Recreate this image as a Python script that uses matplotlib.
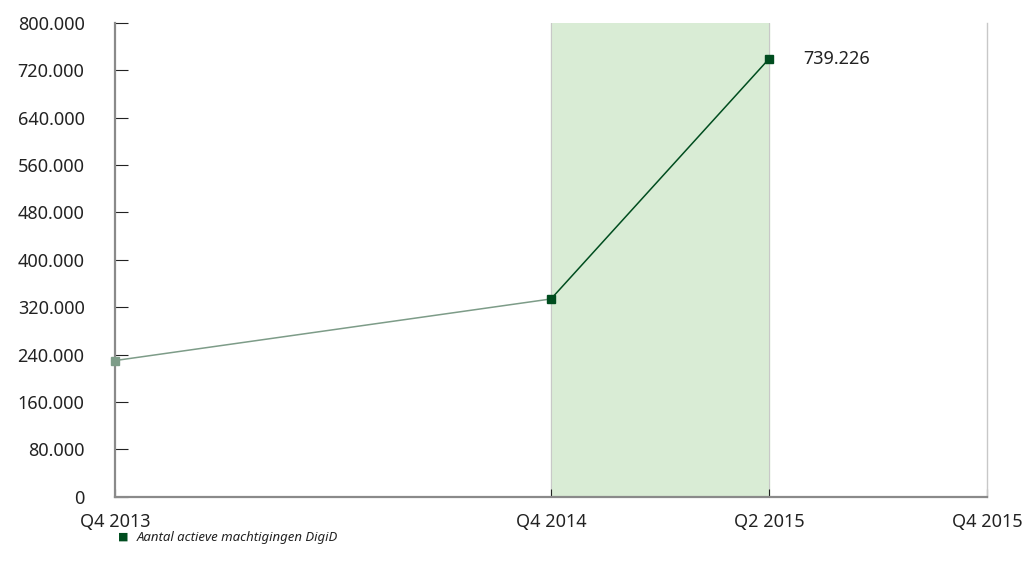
import matplotlib
matplotlib.use('Agg')
import matplotlib.pyplot as plt
from matplotlib.ticker import FuncFormatter

# data
quarters = ['Q4 2013', 'Q4 2014', 'Q2 2015', 'Q4 2015']
values = [230000, 334000, 739226]
highlight = ('Q4 2014', 'Q2 2015')
series_name = 'Aantal actieve machtigingen DigiD'

# colours
darkGreen = '#004d1f'
greyGreen = '#7d9c88'
shade = '#d9ecd5'
spineGrey = '#8a8a8a'


def qpos(label):
    q, y = label.split()
    return (int(y) - 2013) * 4 + int(q[1]) - 4


def dots(v, pos):
    return '{:,}'.format(int(v)).replace(',', '.')


plt.rcParams['font.family'] = ['Noto Sans', 'DejaVu Sans']

xs = [qpos(q) for q in quarters]
fig, ax = plt.subplots(figsize=(10.28, 5.73), dpi=100)
fig.subplots_adjust(left=0.112, right=0.960, bottom=0.133, top=0.960)

ax.axvspan(qpos(highlight[0]), qpos(highlight[1]), color=shade, zorder=0)
for h in highlight:
    ax.axvline(qpos(h), color='#c8c8c8', lw=0.8, zorder=0.5)

ax.plot(xs[0:2], values[0:2], color=greyGreen, lw=1.1, zorder=2)
ax.plot(xs[1:3], values[1:3], color=darkGreen, lw=1.1, zorder=2)
ax.plot(xs[0], values[0], 's', color=greyGreen, ms=5.5, zorder=3,
        clip_on=False)
ax.plot(xs[1:3], values[1:3], 's', color=darkGreen, ms=5.5, zorder=3,
        clip_on=False)

ax.annotate(dots(values[2], None), (xs[2], values[2]), xytext=(25, 0),
            textcoords='offset points', va='center', ha='left',
            fontsize=13, color='#222222')

ax.set_xlim(xs[0], xs[-1])
ax.set_ylim(0, 800000)
ax.set_yticks(range(0, 800001, 80000))
ax.yaxis.set_major_formatter(FuncFormatter(dots))
ax.set_xticks(xs)
ax.set_xticklabels(quarters)

for s in ['left', 'bottom']:
    ax.spines[s].set_color(spineGrey)
    ax.spines[s].set_linewidth(1.6)
ax.spines['top'].set_visible(False)
ax.spines['right'].set_color('#c8c8c8')
ax.spines['right'].set_linewidth(1.0)

ax.tick_params(axis='y', direction='in', length=9, width=0.8,
               color='#222222', pad=22, labelsize=13, labelcolor='#222222')
ax.tick_params(axis='x', direction='in', length=6, width=0.8,
               color='#222222', pad=12, labelsize=13, labelcolor='#222222')

# legend
fig.text(0.1148, 0.063, '\u25a0', color=darkGreen, fontsize=8,
         va='center', ha='left')
fig.text(0.133, 0.062, series_name, fontsize=9.5, style='italic',
         color='#222222', va='center', ha='left')

fig.savefig('out.png', dpi=100)
